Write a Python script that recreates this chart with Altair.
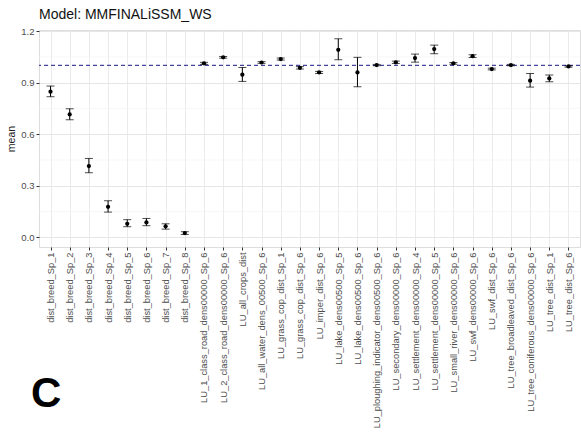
import altair as alt
import pandas as pd

categories = [
    "dist_breed_Sp_1", "dist_breed_Sp_2", "dist_breed_Sp_3", "dist_breed_Sp_4",
    "dist_breed_Sp_5", "dist_breed_Sp_6", "dist_breed_Sp_7", "dist_breed_Sp_8",
    "LU_1_class_road_dens00000_Sp_6", "LU_2_class_road_dens00000_Sp_6",
    "LU_all_crops_dist", "LU_all_water_dens_00500_Sp_6",
    "LU_grass_cop_dist_Sp_1", "LU_grass_cop_dist_Sp_6", "LU_imper_dist_Sp_6",
    "LU_lake_dens00500_Sp_5", "LU_lake_dens00500_Sp_6",
    "LU_ploughing_indicator_dens00500_Sp_6", "LU_secondary_dens00000_Sp_6",
    "LU_settlement_dens00000_Sp_4", "LU_settlement_dens00000_Sp_5",
    "LU_small_river_dens00000_Sp_6", "LU_swf_dens00000_Sp_6", "LU_swf_dist_Sp_6",
    "LU_tree_broadleaved_dist_Sp_6", "LU_tree_coniferous_dens00000_Sp_6",
    "LU_tree_dist_Sp_1", "LU_tree_dist_Sp_6",
]
means = [0.847, 0.715, 0.415, 0.178, 0.079, 0.087, 0.064, 0.025,
         1.012, 1.047, 0.946, 1.017, 1.037, 0.986, 0.959, 1.091, 0.959,
         1.002, 1.018, 1.043, 1.095, 1.012, 1.054, 0.979, 1.002, 0.911,
         0.924, 0.994]
lower = [0.818, 0.684, 0.376, 0.147, 0.062, 0.068, 0.048, 0.017,
         1.006, 1.042, 0.907, 1.012, 1.031, 0.979, 0.953, 1.033, 0.876,
         0.998, 1.011, 1.019, 1.068, 1.007, 1.046, 0.974, 0.998, 0.874,
         0.905, 0.990]
upper = [0.880, 0.748, 0.459, 0.213, 0.103, 0.110, 0.079, 0.033,
         1.018, 1.052, 0.988, 1.022, 1.043, 0.993, 0.965, 1.155, 1.047,
         1.006, 1.025, 1.066, 1.118, 1.017, 1.062, 0.984, 1.006, 0.953,
         0.944, 0.998]
y_ticks = [0.0, 0.3, 0.6, 0.9, 1.2]
minor_ticks = [0.15, 0.45, 0.75, 1.05]
reference = [1.0]

df = pd.DataFrame({"variable": categories, "mean": means, "lower": lower, "upper": upper})

FONT = "Liberation Sans"

x_enc = alt.X(
    "variable:N", sort=categories,
    scale=alt.Scale(type="point", padding=0.6),
    axis=alt.Axis(title=None, labelAngle=-90, labelFontSize=9.3, labelColor="#4d4d4d",
                  labelFont=FONT, labelLimit=300, grid=True, gridColor="#ebebeb",
                  gridWidth=1, tickColor="#333333", tickSize=3, domain=False,
                  labelPadding=2),
)
y_scale = alt.Scale(domain=[-0.056, 1.206], nice=False, zero=False)
y_axis = alt.Axis(values=y_ticks, format=".1f", title="mean", titleFont=FONT,
                  titleFontSize=10.5, titleFontWeight="normal", titleColor="#222222",
                  titlePadding=4, labelFont=FONT, labelFontSize=9.5, labelColor="#4d4d4d",
                  grid=True, gridColor="#e6e6e6", gridWidth=1.1, tickColor="#333333",
                  tickSize=3, domain=False, labelPadding=2)

base = alt.Chart(df)

minor = alt.Chart(pd.DataFrame({"m": minor_ticks})).mark_rule(
    color="#f2f2f2", strokeWidth=0.6
).encode(y=alt.Y("m:Q", scale=y_scale, axis=y_axis))

ref = alt.Chart(pd.DataFrame({"ref": reference})).mark_rule(
    color="#44449a", strokeDash=[4, 3], strokeWidth=1.2
).encode(y=alt.Y("ref:Q", scale=y_scale, axis=y_axis))

bars = base.mark_rule(color="black", strokeWidth=1).encode(
    x=x_enc, y=alt.Y("lower:Q", scale=y_scale, axis=y_axis), y2="upper:Q"
)
cap_lo = base.mark_tick(color="black", size=8, thickness=1).encode(
    x=x_enc, y=alt.Y("lower:Q", scale=y_scale, axis=y_axis)
)
cap_hi = base.mark_tick(color="black", size=8, thickness=1).encode(
    x=x_enc, y=alt.Y("upper:Q", scale=y_scale, axis=y_axis)
)
pts = base.mark_circle(color="black", size=18, opacity=1).encode(
    x=x_enc, y=alt.Y("mean:Q", scale=y_scale, axis=y_axis)
)

letter = alt.Chart(pd.DataFrame({"label": ["C"]})).mark_text(
    font=FONT, fontSize=42, fontWeight="bold", color="black",
    align="left", baseline="alphabetic"
).encode(text="label:N", x=alt.value(-8), y=alt.value(377))

chart = alt.layer(minor, ref, bars, cap_lo, cap_hi, pts, letter).properties(
    width=541, height=217,
    title=alt.TitleParams("Model: MMFINALiSSM_WS", anchor="start", frame="group",
                          font=FONT, fontSize=14, fontWeight="normal",
                          color="#111111", offset=4),
    padding={"left": 39, "top": 30, "right": 1, "bottom": 186},
    autosize="none",
).configure_view(stroke="#999999", strokeWidth=1).configure(background="white")

chart.save("out.html", embed_options={"renderer": "svg", "actions": False})
